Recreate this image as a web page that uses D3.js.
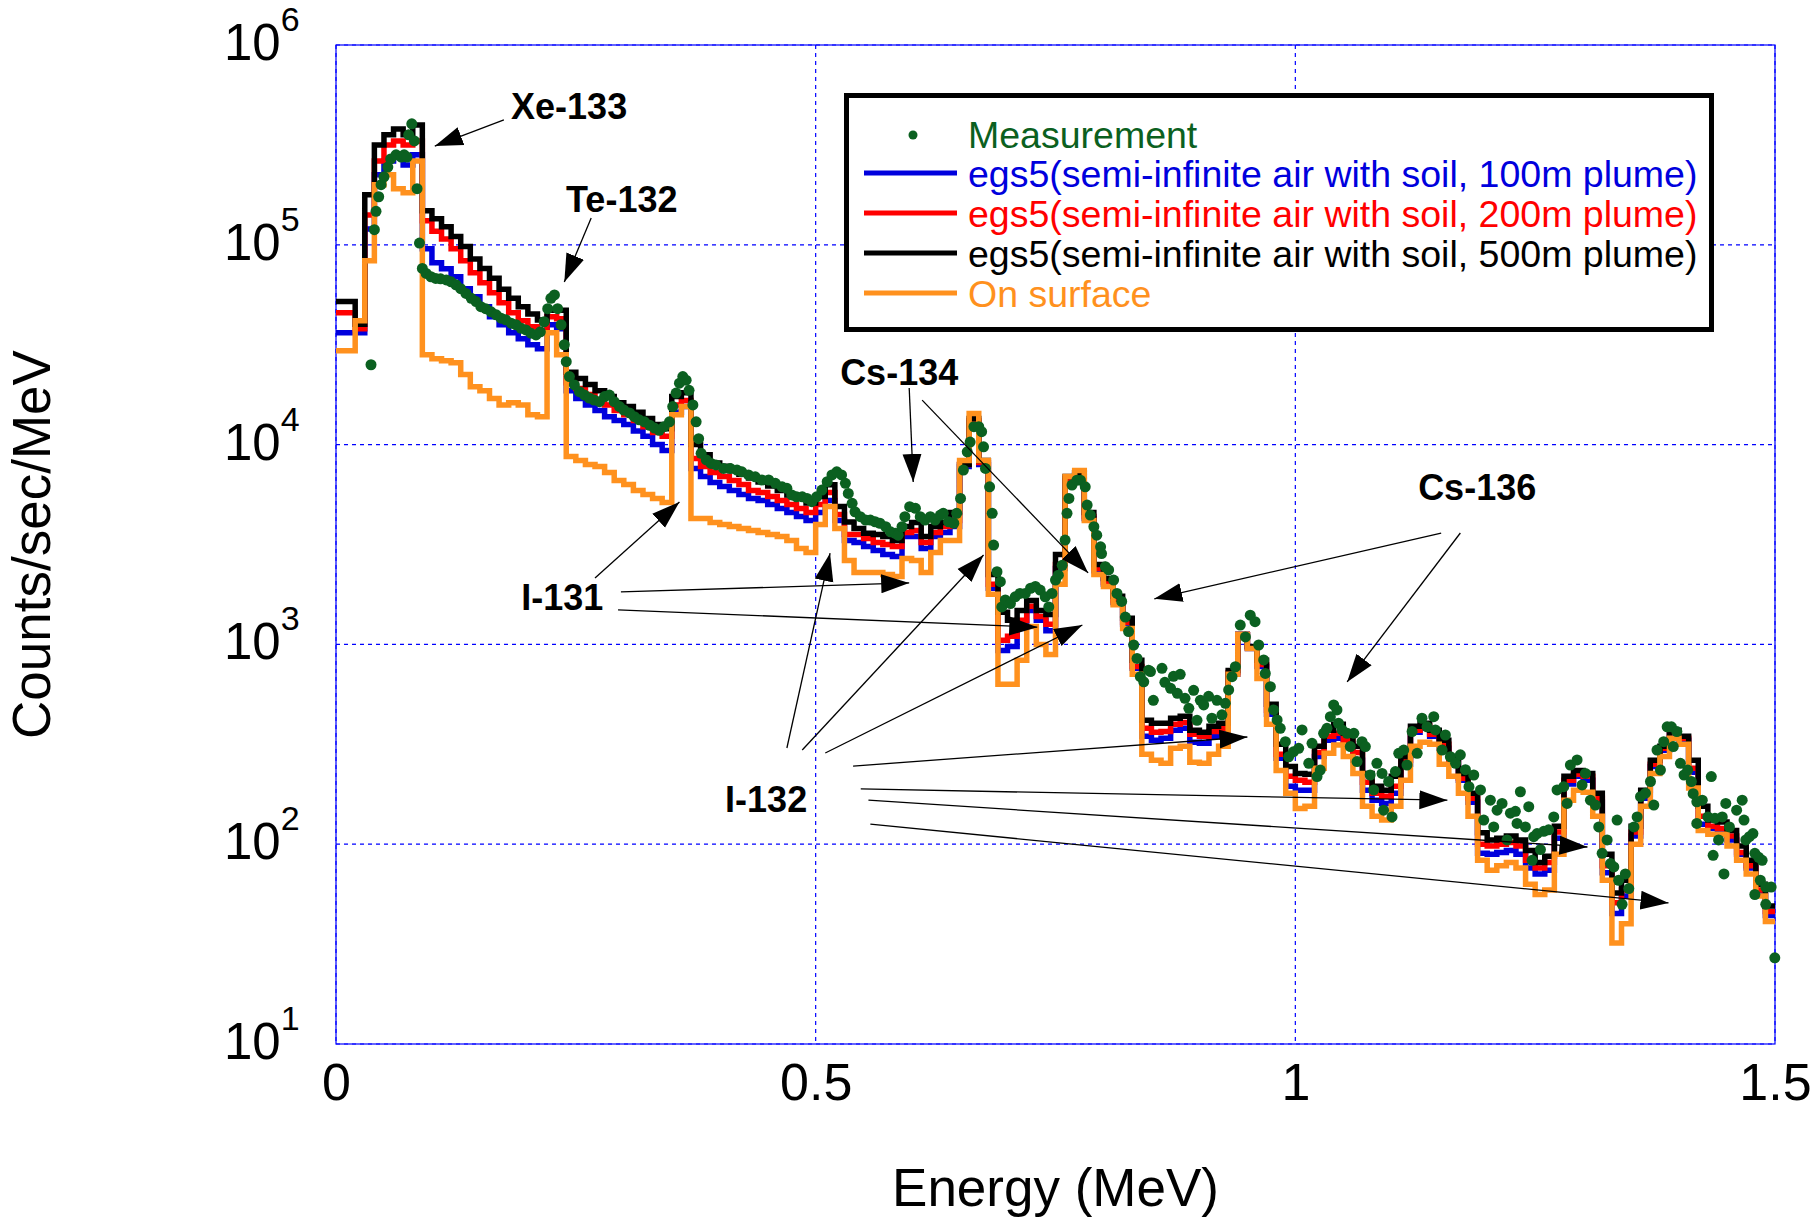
<!DOCTYPE html>
<meta charset="utf-8">
<style>
body { margin: 0; background: #fff; }
text { font-family: "Liberation Sans", Arial, Helvetica, sans-serif; }
.grid line { stroke: #0000ff; stroke-width: 1.2; stroke-dasharray: 4,4; }
.spec { fill: none; stroke-width: 5.5; stroke-linejoin: miter; }
.anno { font-weight: bold; font-size: 36px; fill: #000; }
.arrow { stroke: #000; stroke-width: 1.3; fill: none; }
</style>
<body>

<script src="https://d3js.org/d3.v7.min.js"></script>
<script>

// histogram bins start at 0 MeV, 0.01 MeV wide (150 bins up to 1.5 MeV)
var binWidth = 0.01;

// egs5 semi-infinite air with soil, 100m plume (counts/sec/MeV)
var plume100 = [
  36300, 36300, 36300, 120000, 224000, 263000, 275000, 251000, 282000, 95500,
  81300, 75900, 69200, 60300, 55000, 49000, 43700, 39800, 36300, 33900, 31600, 30200, 39800, 38000,
  18600, 17000, 15800, 14800, 13800, 13200, 12600, 11700, 11000, 10000, 9330, 14500, 15500, 7590,
  6920, 6460, 6170, 5890, 5620, 5370, 5250, 5010, 4790, 4570, 4370, 4170,
  4570, 5250, 4170, 3310, 3240, 3090, 2950, 2820, 2750, 3470, 3470, 3020, 3470, 3630, 3890,
  7760, 12900, 7940, 1910, 933, 977, 1230, 1480, 1320, 1170, 2400, 6610, 7080, 4270, 2340, 2000, 1620, 1260, 759, 347,
  331, 339, 372, 380, 324, 320, 347, 355, 708, 1122, 955, 776, 447, 269, 195,
  186, 186, 275, 331, 339, 316, 263, 186, 166, 160, 180, 251, 363, 380, 347,
  302, 257, 209, 162, 90, 89, 91, 93, 89, 76, 71, 74, 107, 200, 219,
  209, 162, 72, 45, 55, 110, 170, 245, 295, 355, 331, 229, 126, 120, 117, 105, 89, 76, 58, 44
];

// 200m plume
var plume200 = [
  45700, 45700, 38000, 141000, 263000, 316000, 331000, 316000, 331000, 132000,
  117000, 107000, 95500, 83200, 72400, 64600, 57500, 51300, 45700, 41700, 38900, 37200, 43700, 42700,
  20400, 19100, 17800, 16600, 15800, 14800, 14100, 13200, 12300, 11500, 11000, 15800, 16600, 8510,
  7760, 7240, 6920, 6610, 6310, 5890, 5750, 5500, 5250, 5010, 4790, 4570,
  5010, 5750, 4470, 3550, 3550, 3390, 3240, 3160, 3090, 3630, 3720, 3240, 3630, 3890, 4170,
  7940, 13200, 8130, 2000, 1050, 1100, 1320, 1550, 1380, 1260, 2510, 6760, 7240, 4370, 2400, 2040, 1660, 1290, 776, 380,
  363, 367, 398, 407, 355, 347, 367, 380, 724, 1122, 966, 794, 468, 282, 219,
  209, 204, 288, 347, 359, 331, 288, 204, 180, 174, 195, 263, 372, 389, 355,
  316, 263, 214, 170, 100, 98, 100, 102, 98, 83, 76, 81, 115, 209, 224,
  219, 170, 78, 51, 59, 115, 178, 251, 302, 363, 339, 240, 138, 123, 120, 110, 91, 78, 59, 46
];

// 500m plume
var plume500 = [
  52000, 52000, 40000, 178000, 316000, 355000, 380000, 355000, 398000, 148000,
  135000, 123000, 110000, 98000, 85000, 76000, 68000, 60000, 54000, 49000, 45000, 42000, 47000, 47000,
  23000, 21400, 20000, 18600, 17400, 16200, 15500, 14500, 13500, 12600, 12000, 17400, 18200, 10000,
  8900, 8100, 7800, 7400, 7100, 6800, 6500, 6200, 5900, 5600, 5400, 5100,
  5500, 6300, 4900, 4100, 3800, 3600, 3550, 3470, 3310, 3890, 4070, 3470, 3890, 4070, 4570,
  7940, 13500, 8320, 2240, 1450, 1320, 1480, 1660, 1480, 1410, 2820, 6920, 7240, 4570, 2510, 2140, 1740, 1350, 832, 417,
  403, 403, 427, 437, 372, 363, 389, 403, 741, 1122, 977, 832, 501, 316, 245,
  226, 224, 309, 372, 398, 359, 309, 226, 195, 186, 219, 275, 389, 403, 372,
  331, 275, 226, 180, 114, 105, 107, 110, 105, 93, 81, 87, 123, 219, 234,
  226, 180, 89, 57, 66, 123, 186, 263, 309, 372, 347, 263, 155, 132, 129, 117, 98, 83, 63, 49
];

// on surface
var onSurface = [
  29500, 29500, 41700, 83200, 200000, 224000, 191000, 182000, 263000, 28200,
  26900, 26300, 25700, 22400, 19500, 18600, 17000, 15800, 16200, 15800, 14100, 13800, 36300, 28200,
  8710, 8320, 7940, 7760, 7240, 6610, 6310, 5890, 5620, 5370, 5130, 14100, 15500, 4270,
  4270, 4070, 3980, 3890, 3800, 3720, 3630, 3550, 3470, 3310, 3020, 2880,
  3980, 4900, 3800, 2630, 2290, 2290, 2290, 2240, 2190, 2690, 2630, 2290, 2880, 3310, 3310,
  8320, 14300, 8320, 1780, 631, 631, 832, 1230, 1000, 891, 2000, 6920, 7410, 4170, 2240, 1950, 1580, 1200, 708, 282,
  263, 254, 302, 309, 257, 254, 282, 309, 708, 1122, 955, 676, 398, 234, 180,
  151, 155, 240, 285, 314, 275, 226, 155, 138, 132, 155, 209, 309, 324, 316,
  251, 219, 180, 138, 83, 74, 78, 81, 76, 63, 56, 59, 89, 166, 186,
  182, 138, 66, 32, 40, 100, 155, 226, 275, 339, 316, 191, 117, 112, 112, 98, 83, 71, 55, 41
];

// measurement: energy (MeV) and counts/sec/MeV
var measEnergy = [
  0.0365, 0.040, 0.0417, 0.0445, 0.047, 0.050, 0.054, 0.057, 0.0626, 0.068,
  0.071, 0.074, 0.0758, 0.079, 0.0817, 0.0845, 0.087, 0.090, 0.094, 0.099,
  0.104, 0.109, 0.115, 0.120, 0.125, 0.130, 0.1355, 0.141, 0.146, 0.151,
  0.156, 0.1616, 0.167, 0.172, 0.177, 0.1825, 0.1877, 0.193, 0.198, 0.203,
  0.2085, 0.213, 0.217, 0.2207, 0.224, 0.2277, 0.231, 0.2346, 0.238, 0.240,
  0.2433, 0.2485, 0.2537, 0.259, 0.264, 0.269, 0.2746, 0.280, 0.285, 0.290,
  0.2955, 0.300, 0.306, 0.311, 0.316, 0.3215, 0.327, 0.332, 0.337, 0.342,
  0.3476, 0.351, 0.3545, 0.358, 0.3615, 0.365, 0.368, 0.372, 0.3754, 0.378,
  0.3806, 0.386, 0.391, 0.396, 0.404, 0.411, 0.418, 0.423, 0.430, 0.437,
  0.444, 0.451, 0.458, 0.465, 0.470, 0.475, 0.480, 0.486, 0.491, 0.496,
  0.501, 0.5065, 0.512, 0.517, 0.522, 0.527, 0.531, 0.534, 0.538, 0.541,
  0.5465, 0.552, 0.557, 0.562, 0.567, 0.573, 0.578, 0.583, 0.586, 0.590,
  0.593, 0.598, 0.604, 0.609, 0.614, 0.6195, 0.6245, 0.630, 0.633, 0.6385,
  0.644, 0.647, 0.651, 0.654, 0.658, 0.661, 0.665, 0.670, 0.673, 0.675,
  0.677, 0.6813, 0.684, 0.6855, 0.689, 0.6925, 0.694, 0.6977, 0.703, 0.708,
  0.713, 0.7185, 0.724, 0.729, 0.734, 0.7393, 0.743, 0.7463, 0.750, 0.753,
  0.757, 0.760, 0.762, 0.764, 0.7672, 0.7723, 0.776, 0.781, 0.783, 0.7863,
  0.790, 0.793, 0.797, 0.798, 0.802, 0.8054, 0.8106, 0.8141, 0.819, 0.8228,
  0.8262, 0.8315, 0.835, 0.8384, 0.842, 0.847, 0.849, 0.852, 0.861, 0.864,
  0.870, 0.873, 0.877, 0.880, 0.885, 0.889, 0.894, 0.8975, 0.901, 0.9045,
  0.9096, 0.913, 0.9183, 0.9235, 0.927, 0.9305, 0.934, 0.9375, 0.9426, 0.948,
  0.953, 0.958, 0.9618, 0.967, 0.9687, 0.974, 0.9774, 0.981, 0.9843, 0.9896,
  0.993, 0.998, 1.0035, 1.007, 1.014, 1.0174, 1.0226, 1.026, 1.0295, 1.033,
  1.0365, 1.040, 1.0434, 1.045, 1.0487, 1.054, 1.0573, 1.061, 1.0643, 1.0695,
  1.073, 1.078, 1.0817, 1.085, 1.0904, 1.092, 1.0973, 1.1008, 1.1043, 1.1078,
  1.113, 1.1164, 1.1217, 1.127, 1.132, 1.1373, 1.1443, 1.146, 1.153, 1.1564,
  1.1616, 1.167, 1.172, 1.1773, 1.181, 1.186, 1.193, 1.1964, 1.2033, 1.2068,
  1.2103, 1.2155, 1.2207, 1.2242, 1.2294, 1.2311, 1.2346, 1.2398, 1.2433, 1.2468,
  1.2485, 1.252, 1.2555, 1.259, 1.264, 1.2694, 1.2728, 1.2798, 1.2833, 1.2867,
  1.2937, 1.2989, 1.3024, 1.3076, 1.3128, 1.3163, 1.3198, 1.325, 1.3285, 1.332,
  1.3354, 1.337, 1.3406, 1.344, 1.3476, 1.353, 1.3563, 1.3598, 1.365, 1.3702,
  1.3737, 1.377, 1.3806, 1.384, 1.3876, 1.392, 1.394, 1.3977, 1.4014, 1.4052,
  1.409, 1.4128, 1.4147, 1.4185, 1.4185, 1.4242, 1.430, 1.4336, 1.4355, 1.4374,
  1.4412, 1.445, 1.4468, 1.4487, 1.4525, 1.460, 1.4658, 1.4677, 1.4696, 1.4733,
  1.477, 1.479, 1.479, 1.483, 1.4847, 1.4866, 1.4904, 1.4904, 1.496, 1.4998
];
var measCounts = [
  25100, 119000, 147000, 174000, 200000, 219000, 245000, 269000, 282000, 275000,
  282000, 275000, 355000, 403000, 331000, 191000, 102000, 76200, 71900, 69200,
  67900, 67600, 66700, 65300, 63100, 60300, 57100, 54000, 52000, 49000,
  47900, 46200, 44600, 42900, 42100, 40500, 39800, 38200, 37500, 36100,
  35400, 36700, 41200, 47900, 54000, 56100, 47900, 39800, 31600, 26000,
  21900, 19900, 18400, 17700, 17100, 16700, 16400, 17400, 17700, 16400,
  15500, 14900, 14400, 13800, 13300, 13000, 12500, 12100, 11800, 12300,
  13000, 15500, 18100, 20300, 21900, 21000, 18700, 15800, 13000, 10700,
  9040, 8380, 8050, 7910, 7600, 7600, 7460, 7310, 7050, 6900,
  6650, 6650, 6400, 6150, 6040, 5600, 5480, 5480, 5380, 5180,
  5480, 5920, 6520, 7050, 7310, 7050, 6400, 5700, 5080, 4610,
  4360, 4190, 4190, 4110, 4040, 3880, 3660, 3600, 3520, 3880,
  4360, 4890, 4800, 4360, 4190, 4360, 4190, 4440, 4530, 4110,
  4040, 4530, 5380, 7460, 9200, 10300, 12300, 12300, 11600, 9750,
  7600, 6150, 4530, 3140, 2310, 2060, 1540, 1670, 1600, 1730,
  1800, 1800, 1910, 1950, 1870, 1730, 1540, 1800, 2100, 2220,
  2490, 3330, 4530, 5380, 6270, 6640, 6640, 6150, 4980, 4440,
  3880, 3520, 3080, 2850, 2450, 2360, 2100, 1800, 1640, 1370,
  1160, 993, 851, 689, 650, 743, 731, 525, 759, 646,
  603, 692, 569, 708, 537, 479, 589, 417, 525, 498,
  550, 427, 525, 444, 507, 592, 689, 773, 1250, 1090,
  1400, 1300, 993, 836, 716, 614, 470, 419, 380, 326,
  274, 290, 302, 373, 254, 320, 218, 235, 359, 380,
  435, 498, 470, 403, 373, 359, 308, 359, 259, 326,
  308, 222, 187, 254, 226, 148, 206, 137, 231, 285,
  296, 249, 366, 285, 427, 387, 435, 373, 296, 352,
  274, 254, 280, 236, 194, 222, 187, 132, 166, 122,
  148, 160, 105, 143, 146, 127, 183, 122, 154, 83,
  109, 113, 94, 116, 118, 137, 187, 194, 160, 249,
  264, 198, 226, 166, 157, 122, 90, 105, 80, 77,
  132, 66, 50, 71, 60, 122, 137, 173, 180, 206,
  157, 296, 235, 326, 387, 387, 308, 366, 254, 222,
  235, 206, 179, 163, 127, 166, 137, 218, 88, 135,
  105, 137, 71, 160, 122, 148, 166, 132, 105, 109,
  113, 90, 56, 86, 66, 83, 61, 50, 61, 27
];

// axis ticks
var xTicks = [0, 0.5, 1, 1.5];
var yExponents = [1, 2, 3, 4, 5, 6];

// peak labels (anchored in data units: MeV, counts/sec/MeV)
var labelText   = ["Xe-133", "Te-132", "Cs-134", "Cs-136", "I-131", "I-132"];
var labelEnergy = [0.1825, 0.2398, 0.5255, 1.128, 0.193, 0.4056];
var labelCounts = [427000, 146000, 19900, 5280, 1490, 145];

// arrows: start point -> tip
var arrowFromE = [0.175, 0.266, 0.5975, 0.611, 1.152, 1.172, 0.270, 0.297, 0.294, 0.470, 0.486, 0.510, 0.539, 0.547, 0.555, 0.557];
var arrowFromC = [422000, 136000, 19200, 16700, 3610, 3610, 2150, 1830, 1490, 303, 296, 286, 246, 189, 166, 126];
var arrowToE   = [0.103, 0.238, 0.6017, 0.784, 0.853, 1.054, 0.358, 0.5975, 0.731, 0.515, 0.675, 0.778, 0.950, 1.1585, 1.3045, 1.389];
var arrowToC   = [312000, 65200, 6500, 2280, 1690, 649, 5160, 2030, 1220, 2860, 2800, 1250, 344, 166, 96.8, 50.8];

var green = "#0b6020";

// set the dimensions and margins of the graph
var margin = {top: 45, right: 44, bottom: 181, left: 336},
    width = 1819 - margin.left - margin.right,
    height = 1225 - margin.top - margin.bottom;

// set the ranges
var x = d3.scaleLinear().domain([0, 1.5]).range([0, width]);
var y = d3.scaleLog().domain([10, 1e6]).range([height, 0]);

var root = d3.select("body").append("svg")
    .attr("width", width + margin.left + margin.right)
    .attr("height", height + margin.top + margin.bottom);

var defs = root.append("defs");
defs.append("marker")
    .attr("id", "head")
    .attr("markerUnits", "userSpaceOnUse")
    .attr("viewBox", "0 -11 30 22")
    .attr("markerWidth", 30)
    .attr("markerHeight", 22)
    .attr("refX", 28)
    .attr("refY", 0)
    .attr("orient", "auto")
  .append("path")
    .attr("d", "M0,-9.5L28,0L0,9.5Z")
    .attr("fill", "#000");

var svg = root.append("g")
    .attr("transform", "translate(" + margin.left + "," + margin.top + ")");

// frame
svg.append("rect")
    .attr("width", width)
    .attr("height", height)
    .attr("fill", "none")
    .attr("stroke", "#0000ff")
    .attr("stroke-width", 1.2);

// dashed grid
var grid = svg.append("g").attr("class", "grid");
grid.selectAll(".gy")
    .data(yExponents)
  .enter().append("line")
    .attr("x1", 0).attr("x2", width)
    .attr("y1", function(d) { return y(Math.pow(10, d)); })
    .attr("y2", function(d) { return y(Math.pow(10, d)); });
grid.selectAll(".gx")
    .data(xTicks)
  .enter().append("line")
    .attr("y1", 0).attr("y2", height)
    .attr("x1", function(d) { return x(d); })
    .attr("x2", function(d) { return x(d); });

// step lines
var step = d3.line()
    .x(function(d) { return x(d[0]); })
    .y(function(d) { return y(d[1]); })
    .curve(d3.curveStepAfter);

function binPoints(vals) {
  var pts = vals.map(function(v, i) { return [i * binWidth, v]; });
  pts.push([vals.length * binWidth, vals[vals.length - 1]]);
  return pts;
}

var series = [
  {vals: plume100, color: "#0000dd", name: "egs5(semi-infinite air with soil, 100m plume)"},
  {vals: plume200, color: "#ff0000", name: "egs5(semi-infinite air with soil, 200m plume)"},
  {vals: plume500, color: "#000000", name: "egs5(semi-infinite air with soil, 500m plume)"},
  {vals: onSurface, color: "#ff911e", name: "On surface"}
];

svg.selectAll(".spec")
    .data(series)
  .enter().append("path")
    .attr("class", "spec")
    .attr("stroke", function(d) { return d.color; })
    .attr("d", function(d) { return step(binPoints(d.vals)); });

// measurement points
var meas = measEnergy.map(function(e, i) { return {e: e, c: measCounts[i]}; });
svg.selectAll(".meas")
    .data(meas)
  .enter().append("circle")
    .attr("class", "meas")
    .attr("cx", function(d) { return x(d.e); })
    .attr("cy", function(d) { return y(d.c); })
    .attr("r", 5.5)
    .attr("fill", green);

// arrows and peak labels
svg.selectAll(".arrow")
    .data(arrowFromE)
  .enter().append("line")
    .attr("class", "arrow")
    .attr("x1", function(d, i) { return x(arrowFromE[i]); })
    .attr("y1", function(d, i) { return y(arrowFromC[i]); })
    .attr("x2", function(d, i) { return x(arrowToE[i]); })
    .attr("y2", function(d, i) { return y(arrowToC[i]); })
    .attr("marker-end", "url(#head)");

svg.selectAll(".anno")
    .data(labelText)
  .enter().append("text")
    .attr("class", "anno")
    .attr("x", function(d, i) { return x(labelEnergy[i]); })
    .attr("y", function(d, i) { return y(labelCounts[i]); })
    .text(function(d) { return d; });

// x axis labels
svg.append("g")
    .attr("transform", "translate(0," + height + ")")
    .call(d3.axisBottom(x).tickValues(xTicks).tickSize(0).tickPadding(19).tickFormat(d3.format("")))
    .call(function(g) { g.select(".domain").remove(); })
    .selectAll("text")
    .style("font-family", "\"Liberation Sans\", Arial, sans-serif")
    .style("font-size", "52px")
    .attr("fill", "#000");

// y axis labels 10^n
var yl = svg.selectAll(".ylab")
    .data(yExponents)
  .enter().append("text")
    .attr("class", "ylab")
    .attr("x", -112)
    .attr("y", function(d) { return y(Math.pow(10, d)) + 15; })
    .style("font-size", "51px");
yl.append("tspan").text("10");
yl.append("tspan")
    .attr("dy", -29)
    .style("font-size", "34px")
    .text(function(d) { return d; });

// axis titles
svg.append("text")
    .attr("x", width / 2)
    .attr("y", height + 162)
    .attr("text-anchor", "middle")
    .style("font-size", "53px")
    .text("Energy (MeV)");

svg.append("text")
    .attr("transform", "rotate(-90)")
    .attr("x", -height / 2)
    .attr("y", 50 - margin.left)
    .attr("text-anchor", "middle")
    .style("font-size", "53px")
    .text("Counts/sec/MeV");

// legend
var legend = root.append("g");
legend.append("rect")
    .attr("x", 846.5).attr("y", 95.5)
    .attr("width", 865).attr("height", 234)
    .attr("fill", "#fff")
    .attr("stroke", "#000")
    .attr("stroke-width", 5);

var rowBase = [148, 187, 227, 267, 307];
legend.append("circle")
    .attr("cx", 913).attr("cy", rowBase[0] - 13)
    .attr("r", 4.5)
    .attr("fill", green);
legend.append("text")
    .attr("x", 968).attr("y", rowBase[0])
    .style("font-size", "37.5px")
    .attr("fill", green)
    .text("Measurement");

series.forEach(function(s, i) {
  legend.append("line")
      .attr("x1", 864).attr("x2", 957)
      .attr("y1", rowBase[i + 1] - 14).attr("y2", rowBase[i + 1] - 14)
      .attr("stroke", s.color)
      .attr("stroke-width", 5);
  legend.append("text")
      .attr("x", 968).attr("y", rowBase[i + 1])
      .style("font-size", "37.5px")
      .attr("fill", s.color)
      .text(s.name);
});

</script>
</body>
